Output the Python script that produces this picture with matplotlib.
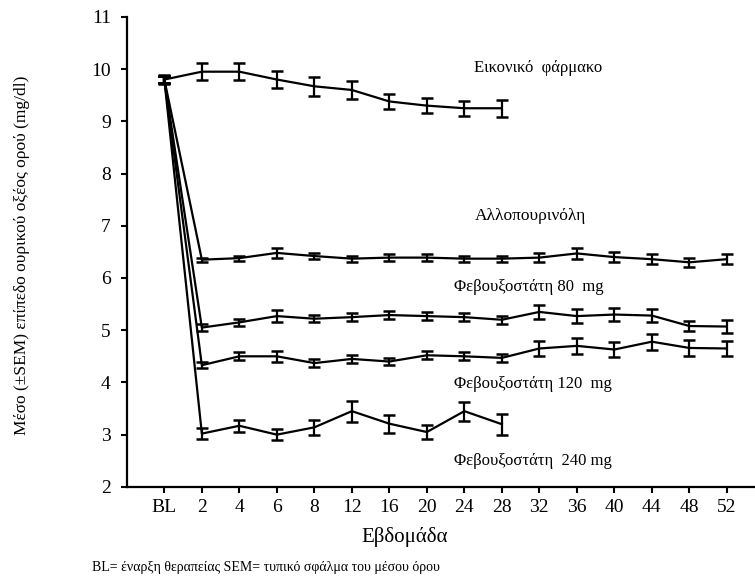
import matplotlib
matplotlib.use("Agg")
import matplotlib.pyplot as plt
import numpy as np

plt.rcParams["font.family"] = ["Liberation Serif", "DejaVu Serif"]

weeks = ["BL", "2", "4", "6", "8", "12", "16", "20", "24", "28",
         "32", "36", "40", "44", "48", "52"]

placebo = [9.80, 9.95, 9.95, 9.80, 9.67, 9.60, 9.38, 9.30, 9.25, 9.25]
placebo_sem = [0.08, 0.16, 0.16, 0.17, 0.18, 0.17, 0.14, 0.14, 0.14, 0.16]

allopurinol = [9.80, 6.35, 6.38, 6.48, 6.42, 6.37, 6.39, 6.39, 6.37, 6.37,
               6.39, 6.47, 6.40, 6.36, 6.30, 6.36]
allopurinol_sem = [0.06, 0.04, 0.05, 0.09, 0.06, 0.06, 0.06, 0.06, 0.06, 0.06,
                   0.08, 0.11, 0.09, 0.09, 0.09, 0.09]

febux_80 = [9.80, 5.05, 5.15, 5.27, 5.22, 5.25, 5.29, 5.27, 5.25, 5.20,
            5.35, 5.27, 5.30, 5.28, 5.08, 5.07]
febux_80_sem = [0.06, 0.06, 0.07, 0.11, 0.07, 0.08, 0.08, 0.08, 0.08, 0.08,
                0.13, 0.13, 0.13, 0.12, 0.10, 0.12]

febux_120 = [9.80, 4.33, 4.50, 4.50, 4.37, 4.45, 4.40, 4.52, 4.50, 4.47,
             4.65, 4.70, 4.63, 4.78, 4.66, 4.65]
febux_120_sem = [0.06, 0.06, 0.08, 0.10, 0.07, 0.08, 0.07, 0.08, 0.08, 0.07,
                 0.15, 0.15, 0.15, 0.15, 0.15, 0.15]

febux_240 = [9.80, 3.02, 3.17, 3.00, 3.14, 3.45, 3.21, 3.05, 3.45, 3.20]
febux_240_sem = [0.06, 0.10, 0.12, 0.10, 0.15, 0.20, 0.17, 0.13, 0.18, 0.20]

series = [
    (placebo, placebo_sem),
    (allopurinol, allopurinol_sem),
    (febux_80, febux_80_sem),
    (febux_120, febux_120_sem),
    (febux_240, febux_240_sem),
]

fig = plt.figure(figsize=(7.55, 5.81), dpi=100)
ax = fig.add_axes([0.168, 0.162, 0.832, 0.809])

for vals, sem in series:
    x = np.arange(len(vals))
    ax.errorbar(x, vals, yerr=sem, color="black", linewidth=1.6,
                elinewidth=1.6, capsize=4.5, capthick=1.8)

ax.set_xlim(-1, 15.75)
ax.set_ylim(2, 11)
ax.set_xticks(np.arange(len(weeks)))
ax.set_xticklabels(weeks)
ax.set_yticks(range(2, 12))
ax.tick_params(axis="both", labelsize=14, width=1.5, length=4.5, direction="out")
ax.tick_params(axis="x", pad=4)
ax.tick_params(axis="y", pad=7)
for side in ["top", "right"]:
    ax.spines[side].set_visible(False)
for side in ["left", "bottom"]:
    ax.spines[side].set_linewidth(1.6)

fig.text(22 / 755, 1 - 255 / 581,
         "Μέσο (±SEM) επίπεδο ουρικού οξέος ορού (mg/dl)",
         fontsize=12.5, rotation=90, ha="center", va="center")

ax.text(8.27, 10.02, "Εικονικό  φάρμακο", fontsize=12, va="center")
ax.text(8.27, 7.19, "Αλλοπουρινόλη", fontsize=12.5, va="center")
ax.text(7.73, 5.83, "Φεβουξοστάτη 80  mg", fontsize=12, va="center")
ax.text(7.73, 3.97, "Φεβουξοστάτη 120  mg", fontsize=12, va="center")
ax.text(7.73, 2.50, "Φεβουξοστάτη  240 mg", fontsize=12, va="center")

fig.text(405 / 755, 1 - 537 / 581, "Εβδομάδα", fontsize=15, ha="center", va="center")
fig.text(92 / 755, 1 - 567 / 581,
         "BL= έναρξη θεραπείας SEM= τυπικό σφάλμα του μέσου όρου",
         fontsize=10, ha="left", va="center")

fig.savefig("out.png", dpi=100)
